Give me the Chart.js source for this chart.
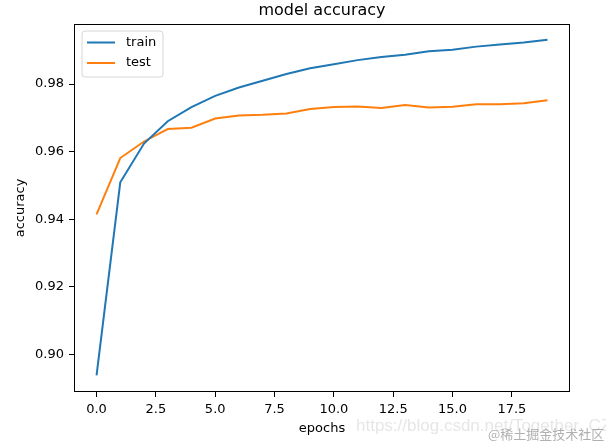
<!DOCTYPE html>
<html>
<head>
<meta charset="utf-8">
<script src="https://cdn.jsdelivr.net/npm/chart.js@4.4.0/dist/chart.umd.min.js"></script>
<style>
    body { margin: 0; background: #fff; }
    #wrap { width: 606px; height: 443px; }
</style>
</head>
<body>
<div id="wrap"><canvas id="myChart" width="606" height="443"></canvas></div>
<script>
const epochs = [0, 1, 2, 3, 4, 5, 6, 7, 8, 9, 10, 11, 12, 13, 14, 15, 16, 17, 18, 19];
const trainAcc = [0.8937, 0.9509, 0.9624, 0.9690, 0.9732, 0.9765, 0.9790, 0.9810, 0.9830, 0.9847,
                  0.9859, 0.9871, 0.9880, 0.9887, 0.9897, 0.9902, 0.9911, 0.9917, 0.9923, 0.9931];
const testAcc = [0.9414, 0.9581, 0.9630, 0.9667, 0.9671, 0.9698, 0.9707, 0.9709, 0.9713, 0.9726,
                 0.9732, 0.9734, 0.9729, 0.9738, 0.9731, 0.9733, 0.9740, 0.9740, 0.9743, 0.9752];
const xTicks = [0, 2.5, 5, 7.5, 10, 12.5, 15, 17.5];
const yTicks = [0.90, 0.92, 0.94, 0.96, 0.98];

const FONT = "'DejaVu Sans', sans-serif";

// matplotlib style frame, title, inner legend and the page watermark
const extras = {
    id: 'extras',
    afterDatasetsDraw(chart) {
        const ctx = chart.ctx;
        const a = chart.chartArea;
        ctx.save();
        ctx.strokeStyle = '#000';
        ctx.lineWidth = 1;
        ctx.strokeRect(a.left + 0.5, a.top + 0.5, a.right - a.left - 1, a.bottom - a.top - 1);

        // legend
        const lx = 82, ly = 31, lw = 81, lh = 46, r = 3;
        ctx.beginPath();
        ctx.moveTo(lx + r, ly);
        ctx.arcTo(lx + lw, ly, lx + lw, ly + lh, r);
        ctx.arcTo(lx + lw, ly + lh, lx, ly + lh, r);
        ctx.arcTo(lx, ly + lh, lx, ly, r);
        ctx.arcTo(lx, ly, lx + lw, ly, r);
        ctx.closePath();
        ctx.fillStyle = 'rgba(255,255,255,0.8)';
        ctx.fill();
        ctx.strokeStyle = '#d6d6d6';
        ctx.stroke();
        ctx.font = '13px ' + FONT;
        ctx.textBaseline = 'middle';
        chart.data.datasets.forEach((ds, i) => {
            const y = 42.5 + i * 20.5;
            ctx.strokeStyle = ds.borderColor;
            ctx.lineWidth = 2;
            ctx.beginPath();
            ctx.moveTo(87, y);
            ctx.lineTo(115, y);
            ctx.stroke();
            ctx.fillStyle = '#000';
            ctx.fillText(ds.label, 126, y);
        });
        ctx.restore();
    },
    afterDraw(chart) {
        const ctx = chart.ctx;
        const a = chart.chartArea;
        ctx.save();
        ctx.fillStyle = '#000';
        ctx.font = '16px ' + FONT;
        ctx.textAlign = 'center';
        ctx.textBaseline = 'middle';
        ctx.fillText('model accuracy', (a.left + a.right) / 2, 11);

        ctx.textAlign = 'left';
        ctx.font = '17px Arial, "Liberation Sans", sans-serif';
        ctx.fillStyle = 'rgba(200,200,200,0.45)';
        ctx.fillText('https://blog.csdn.net/Together_CZ', 356, 426);
        ctx.font = '13px "Noto Sans CJK SC", sans-serif';
        ctx.fillStyle = 'rgba(150,150,150,0.75)';
        ctx.fillText('@稀土掘金技术社区', 488, 434);
        ctx.restore();
    }
};

const data = {
    labels: epochs,
    datasets: [{
        label: 'train',
        data: epochs.map((e, i) => ({ x: e, y: trainAcc[i] })),
        borderColor: '#1f77b4',
        backgroundColor: '#1f77b4',
        borderWidth: 2,
        pointRadius: 0,
        tension: 0
    }, {
        label: 'test',
        data: epochs.map((e, i) => ({ x: e, y: testAcc[i] })),
        borderColor: '#ff7f0e',
        backgroundColor: '#ff7f0e',
        borderWidth: 2,
        pointRadius: 0,
        tension: 0
    }]
};

const config = {
    type: 'line',
    data: data,
    plugins: [extras],
    options: {
        responsive: false,
        animation: false,
        layout: {
            padding: { top: 24, right: 36, left: 0, bottom: 0 }
        },
        plugins: {
            legend: { display: false },
            title: { display: false },
            tooltip: { enabled: false }
        },
        scales: {
            x: {
                type: 'linear',
                min: -0.95,
                max: 19.95,
                afterFit: (s) => { s.height = 51; },
                afterBuildTicks: (s) => { s.ticks = xTicks.map(v => ({ value: v })); },
                grid: { drawOnChartArea: false, drawTicks: true, tickLength: 5, color: '#000' },
                border: { display: false },
                ticks: {
                    color: '#000',
                    padding: 5,
                    maxRotation: 0,
                    autoSkip: false,
                    font: { family: FONT, size: 13 },
                    callback: (v) => v.toFixed(1)
                },
                title: {
                    display: true,
                    text: 'epochs',
                    color: '#000',
                    font: { family: FONT, size: 13 },
                    padding: { top: 0, bottom: 7 }
                }
            },
            y: {
                min: 0.8888,
                max: 0.9978,
                afterFit: (s) => { s.width = 74; },
                afterBuildTicks: (s) => { s.ticks = yTicks.map(v => ({ value: v })); },
                grid: { drawOnChartArea: false, drawTicks: true, tickLength: 5, color: '#000' },
                border: { display: false },
                ticks: {
                    color: '#000',
                    padding: 5,
                    autoSkip: false,
                    font: { family: FONT, size: 13 },
                    callback: (v) => v.toFixed(2)
                },
                title: {
                    display: true,
                    text: 'accuracy',
                    color: '#000',
                    font: { family: FONT, size: 13 },
                    padding: { top: 13, bottom: 0 }
                }
            }
        }
    }
};

var myChart = new Chart(document.getElementById('myChart'), config);
</script>
</body>
</html>
